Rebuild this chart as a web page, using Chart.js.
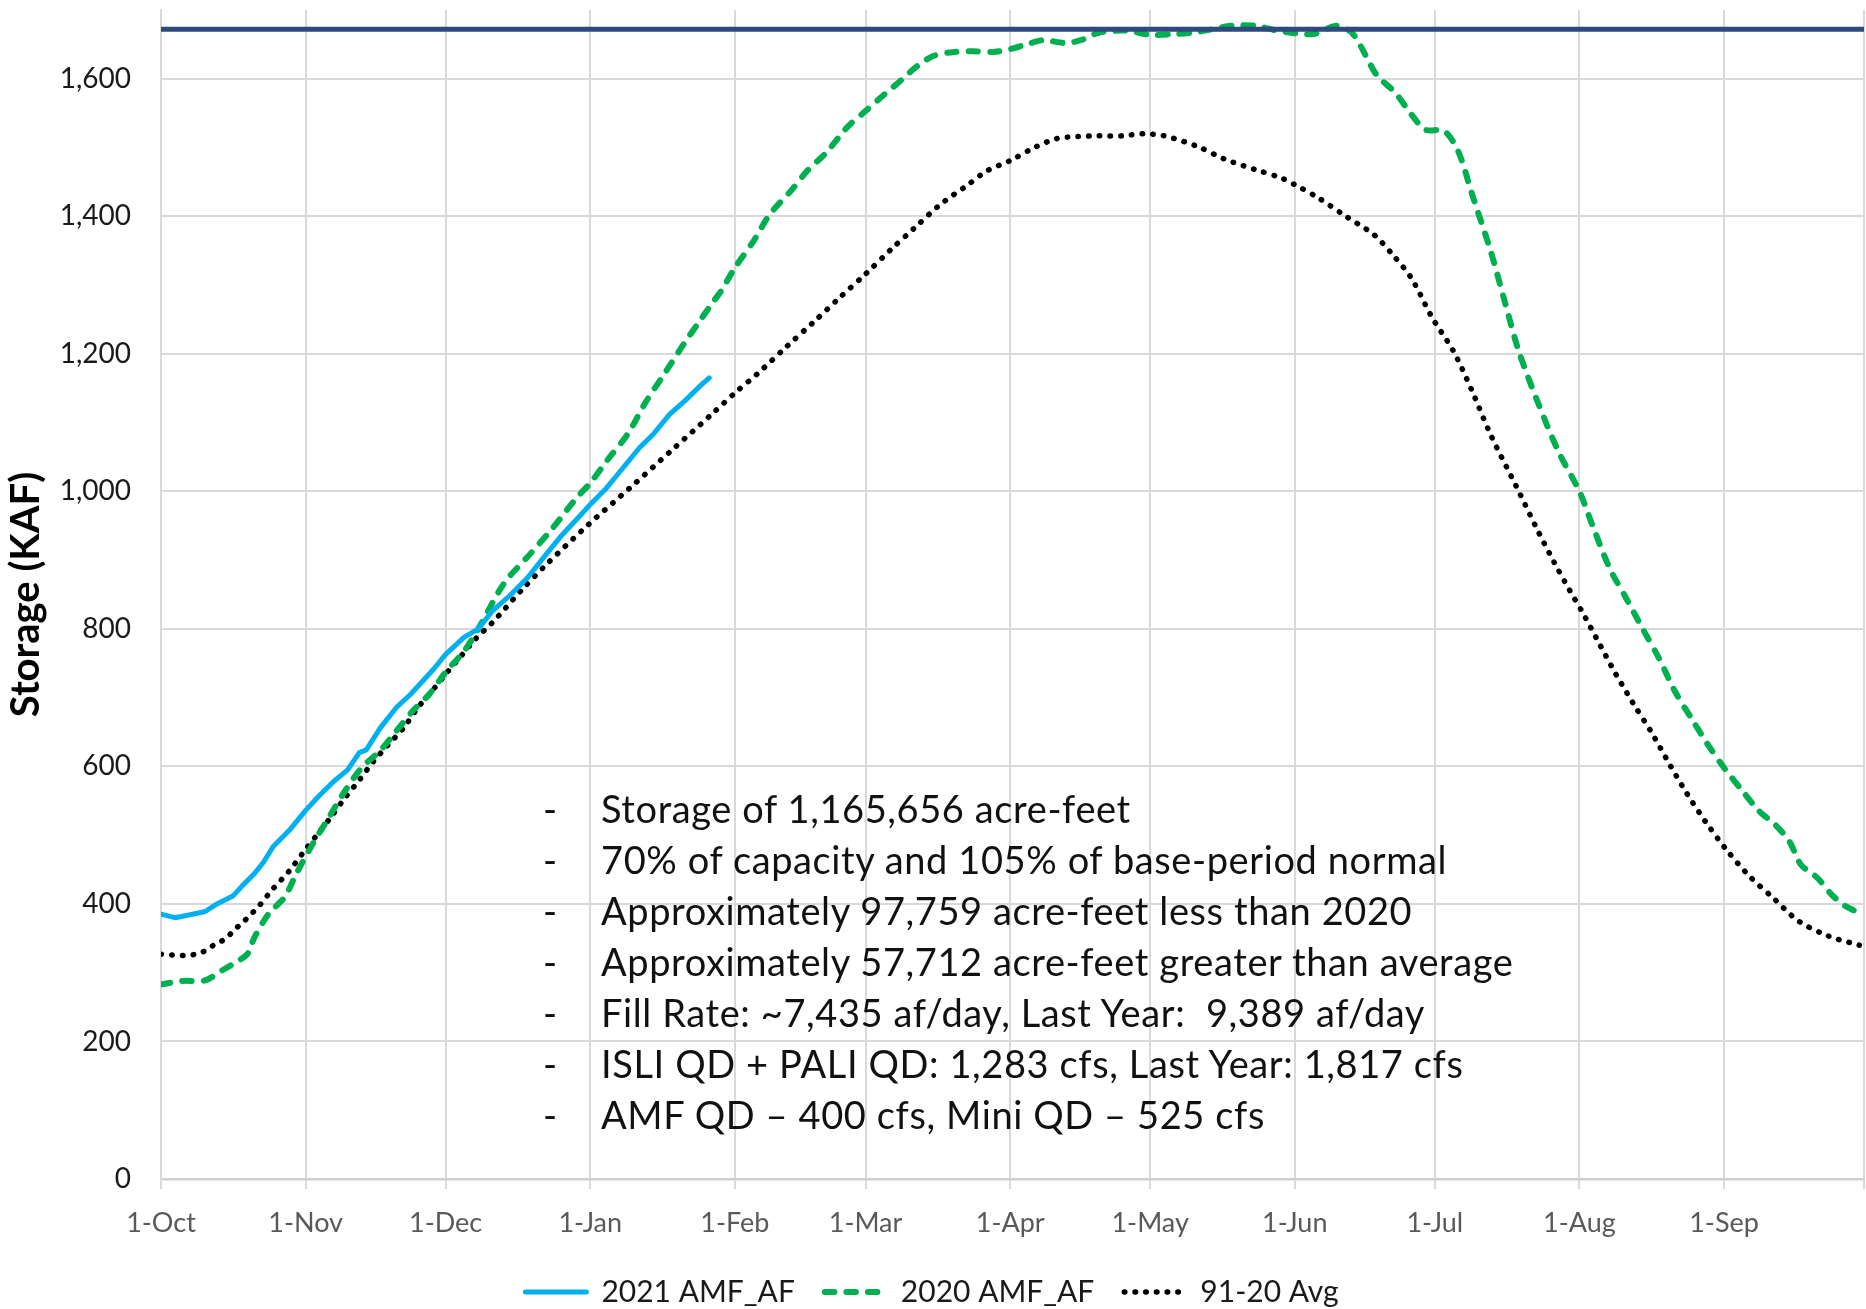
<!DOCTYPE html>
<html>
<head>
<meta charset="utf-8">
<script src="https://cdn.jsdelivr.net/npm/chart.js@4.4.1/dist/chart.umd.min.js"></script>
<style>
  html, body { margin: 0; padding: 0; background: #fff; overflow: hidden; }
  #wrap { position: relative; width: 1866px; height: 1317px; }
  #notes { position: absolute; left: 0; top: 783px; font-family: Lato, sans-serif; font-size: 38px; letter-spacing: 0.6px; color: #111; }
  #notes div { position: relative; height: 51px; line-height: 51px; white-space: pre; }
  #notes .dash { position: absolute; left: 543px; }
  #notes .txt { position: absolute; left: 601px; }
</style>
</head>
<body>
<div id="wrap">
  <canvas id="storage"></canvas>
  <div id="notes"></div>
</div>
<script>
// x positions are days after 1-Oct
const monthDays   = [0, 31, 61, 92, 123, 151, 182, 212, 243, 273, 304, 335, 365];
const monthLabels = ['1-Oct', '1-Nov', '1-Dec', '1-Jan', '1-Feb', '1-Mar', '1-Apr', '1-May', '1-Jun', '1-Jul', '1-Aug', '1-Sep', ''];

const capacity = 1672;

const days2021 = [0, 3, 6, 9.5, 12, 15.5, 17.5, 20, 22, 24, 27.5, 31, 34, 37, 40, 42.5, 44, 47, 50.5, 53.5,
  58.5, 61, 65, 68, 71, 75, 78.5, 82.5, 86, 90, 92, 95.5, 99, 102.5, 105.5, 109, 112.5, 115.5, 117.5];
const af2021 = [385, 380, 384, 389, 400, 412, 427, 444, 461, 483, 507, 536, 558, 578, 595, 620, 624, 656, 686, 705,
  742, 763, 788, 800, 826, 850, 874, 908, 937, 966, 981, 1005, 1034, 1063, 1083, 1112, 1133, 1153, 1165];

const days2020 = [0, 4.5, 9.5, 13, 16, 18.5, 20, 23, 26.5, 29, 32.5, 36, 39.5, 43, 47, 50.5, 54, 57.5, 61, 65,
  68, 73.5, 79, 84, 89, 92, 95.5, 100, 104, 108, 112, 115.5, 118.5, 120, 123, 127, 130.5, 135, 138.5, 142.5,
  147, 151, 155, 158.5, 162, 165.5, 170, 174, 178.5, 182, 185.5, 189, 194, 197.5, 201, 207, 212, 217, 222, 229.5,
  234.5, 240, 247, 252, 255.5, 260.5, 264.5, 268, 271, 275, 278, 281, 285, 288, 291, 295, 299.5, 304, 307, 310.5,
  314, 317.5, 321, 324.5, 328, 331.5, 335, 339, 342.5, 346, 349, 351.5, 355, 358, 360.5, 363];
const af2020 = [283, 288, 289, 303, 315, 327, 351, 385, 410, 444, 487, 526, 565, 598, 623, 652, 681, 705, 737, 768,
  800, 866, 908, 947, 990, 1012, 1044, 1083, 1131, 1172, 1214, 1248, 1277, 1291, 1325, 1364, 1403, 1437, 1466, 1492,
  1529, 1553, 1577, 1597, 1618, 1633, 1639, 1640, 1639, 1643, 1650, 1656, 1652, 1657, 1667, 1670, 1664, 1665, 1668, 1677,
  1677, 1669, 1665, 1677, 1665, 1606, 1580, 1548, 1526, 1524, 1495, 1432, 1349, 1276, 1204, 1131, 1058, 1000, 947, 888,
  845, 801, 758, 709, 670, 632, 598, 564, 535, 515, 491, 457, 438, 414, 399, 390];

const daysAvg = [0, 5, 7.5, 9.5, 11.5, 14, 15.5, 17.5, 19, 21, 24, 27.5, 30.5, 33.5, 36.5, 39.5, 42.5, 45.5, 48.5, 52,
  55, 58, 61, 64.5, 67.5, 71, 77.5, 82.5, 91.5, 100.5, 109.5, 118.5, 123, 128, 134, 140, 145.5, 151, 156.5, 161.5,
  167, 173, 177, 182, 187.5, 192, 196.5, 201, 206, 210.5, 215, 222, 228, 234.5, 240, 243, 248, 253.5, 260, 264,
  268, 272.5, 277, 281, 285, 290.5, 295, 298.5, 302, 304.5, 308, 311.5, 315.5, 319.5, 323, 327, 331, 335.5, 340.5, 345.5,
  351, 357.5, 364];
const afAvg = [327, 325, 327, 332, 341, 350, 361, 373, 383, 397, 422, 448, 475, 501, 527, 555, 580, 607, 630, 656,
  685, 709, 734, 762, 786, 809, 858, 893, 951, 1005, 1060, 1115, 1143, 1172, 1210, 1247, 1282, 1316, 1352, 1383,
  1417, 1446, 1466, 1481, 1501, 1513, 1516, 1517, 1517, 1520, 1517, 1502, 1483, 1468, 1456, 1446, 1427, 1402, 1373, 1344,
  1310, 1252, 1204, 1146, 1082, 1007, 944, 898, 855, 826, 782, 738, 692, 649, 607, 561, 520, 479, 440, 409,
  375, 353, 340];

const notes = [
  'Storage of 1,165,656 acre-feet',
  '70% of capacity and 105% of base-period normal',
  'Approximately 97,759 acre-feet less than 2020',
  'Approximately 57,712 acre-feet greater than average',
  'Fill Rate: ~7,435 af/day, Last Year:  9,389 af/day',
  'ISLI QD + PALI QD: 1,283 cfs, Last Year: 1,817 cfs',
  'AMF QD \u2013 400 cfs, Mini QD \u2013 525 cfs'
];

function pairs(xs, ys) {
  return xs.map((x, i) => ({ x: x, y: ys[i] }));
}

var notesEl = document.getElementById('notes');
notes.forEach(function (line) {
  var row = document.createElement('div');
  row.innerHTML = '<span class="dash">-</span><span class="txt"></span>';
  row.querySelector('.txt').textContent = line;
  notesEl.appendChild(row);
});

new Chart(document.getElementById('storage'), {
  type: 'line',
  data: {
    datasets: [{
      label: '2021 AMF_AF',
      data: pairs(days2021, af2021),
      borderColor: '#00B0F0',
      borderWidth: 5,
      borderJoinStyle: 'round',
      borderCapStyle: 'round',
      pointRadius: 0,
      tension: 0,
      order: 1
    }, {
      label: '2020 AMF_AF',
      data: pairs(days2020, af2020),
      borderColor: '#00B050',
      borderWidth: 6,
      borderDash: [9.5, 12],
      borderCapStyle: 'round',
      borderJoinStyle: 'round',
      pointRadius: 0,
      tension: 0.3,
      order: 2
    }, {
      label: '91-20 Avg',
      data: pairs(daysAvg, afAvg),
      borderColor: '#000000',
      borderWidth: 5.5,
      borderDash: [0.5, 10.2],
      borderCapStyle: 'round',
      borderJoinStyle: 'round',
      pointRadius: 0,
      tension: 0.3,
      order: 3
    }, {
      label: 'Capacity',
      data: pairs([0, 365], [capacity, capacity]),
      borderColor: '#2E4A7C',
      borderWidth: 5,
      borderCapStyle: 'round',
      pointRadius: 0,
      order: 0
    }]
  },
  options: {
    responsive: true,
    maintainAspectRatio: false,
    animation: false,
    layout: { padding: { top: 10, right: 2, left: 0, bottom: 0 } },
    plugins: {
      tooltip: { enabled: false },
      legend: {
        position: 'bottom',
        labels: {
          usePointStyle: true,
          pointStyle: 'line',
          pointStyleWidth: 61,
          padding: 30,
          color: '#1a1a1a',
          font: { family: 'Lato', size: 30 },
          filter: item => item.text !== 'Capacity',
          // legend samples take the dataset's own line style
          generateLabels: chart => {
            const items = Chart.defaults.plugins.legend.labels.generateLabels(chart);
            items.forEach(item => {
              const ds = chart.data.datasets[item.datasetIndex];
              item.lineDash = ds.borderDash || [];
              item.lineWidth = ds.borderWidth;
              item.lineCap = ds.borderCapStyle;
              item.strokeStyle = ds.borderColor;
              item.fillStyle = ds.borderColor;
              item.pointStyle = 'line';
            });
            return items;
          }
        }
      }
    },
    scales: {
      x: {
        type: 'linear',
        min: 0,
        max: 365,
        afterBuildTicks: axis => { axis.ticks = monthDays.map(v => ({ value: v })); },
        afterFit: scale => {
          scale.height = 68;
          scale.paddingLeft = 0;
          scale.paddingRight = 0;
        },
        grid: { color: '#D9D9D9', lineWidth: 2, drawTicks: true, tickLength: 10, tickColor: '#D9D9D9' },
        border: { display: true, color: '#D0D0D0', width: 2.5 },
        ticks: {
          autoSkip: false,
          maxRotation: 0,
          padding: 18,
          color: '#595959',
          font: { family: 'Lato', size: 27 },
          callback: value => monthLabels[monthDays.indexOf(value)]
        }
      },
      y: {
        min: 0,
        max: 1700,
        afterFit: scale => {
          scale.width = 161;
          scale.paddingTop = 0;
          scale.paddingBottom = 0;
        },
        grid: { color: '#D9D9D9', lineWidth: 2, drawTicks: false },
        border: { display: true, color: '#D9D9D9', width: 2 },
        ticks: {
          stepSize: 200,
          includeBounds: false,
          padding: 30,
          color: '#1a1a1a',
          font: { family: 'Lato', size: 28 },
          callback: value => value.toLocaleString('en-US')
        },
        title: {
          display: true,
          text: 'Storage (KAF)',
          color: '#000',
          font: { family: 'Lato', size: 40, weight: 'bold' },
          padding: { top: 2, bottom: 0 }
        }
      }
    }
  }
});
</script>
</body>
</html>
